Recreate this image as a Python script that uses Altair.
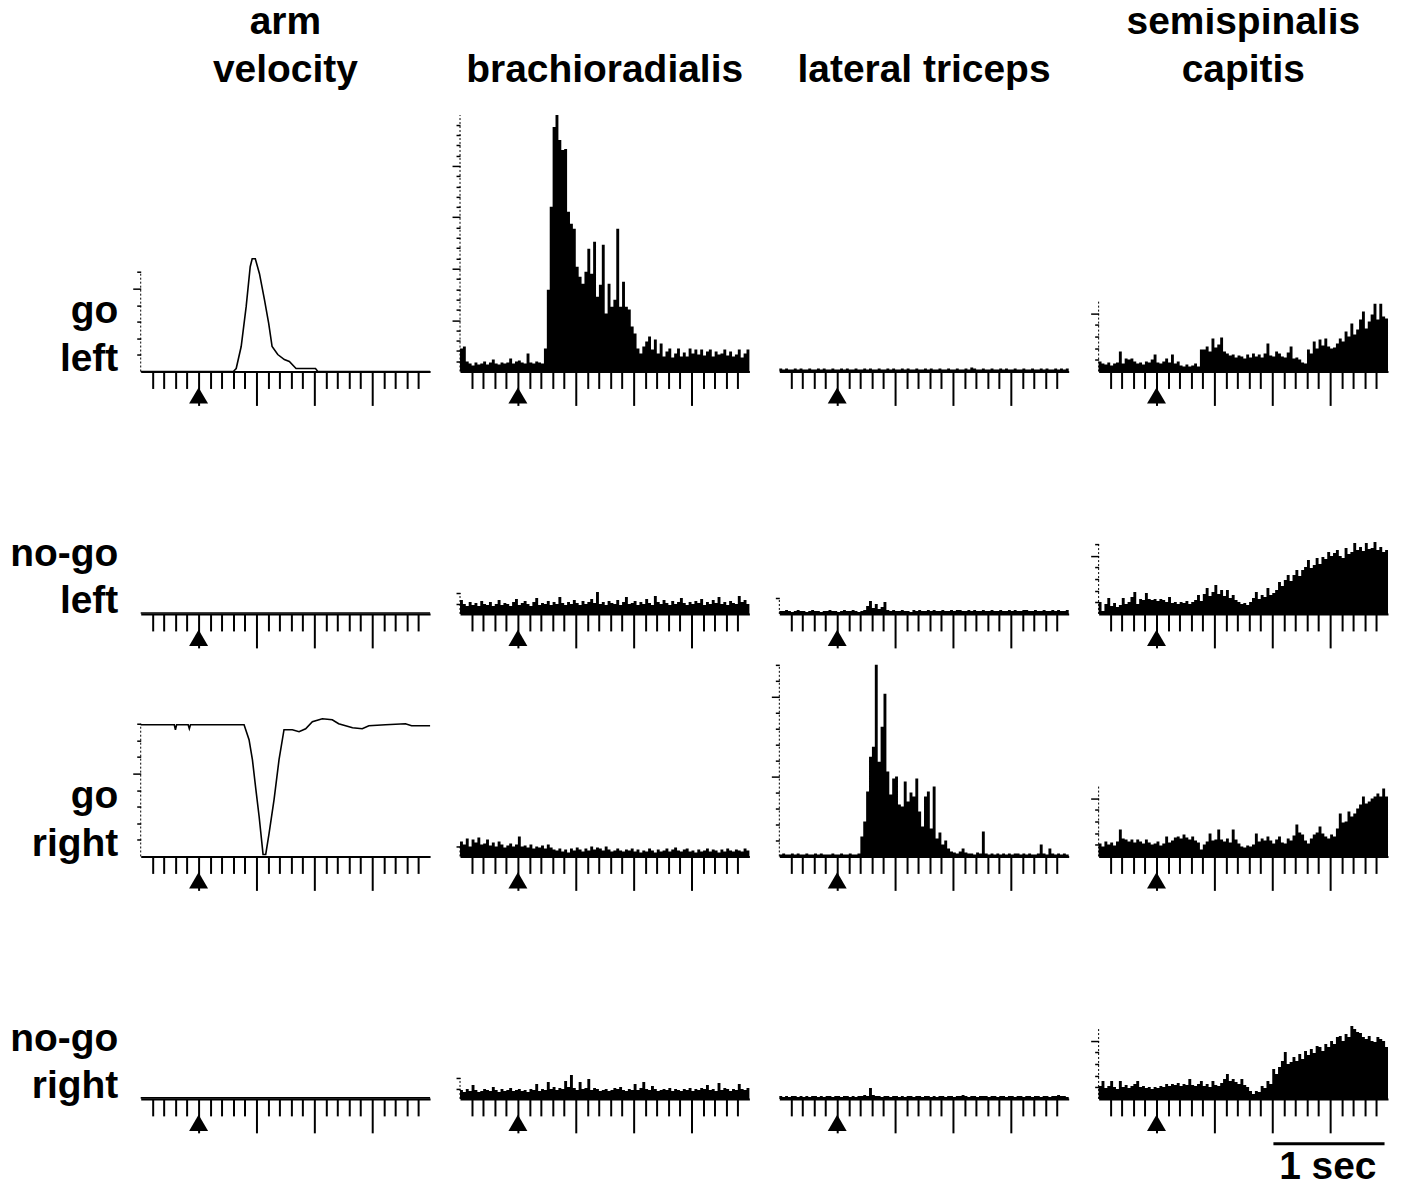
import altair as alt
import pandas as pd

FONT = "Liberation Sans"
PANEL_W = 290
ROW_H = [271, 243, 243, 243]
COL_TITLES = [["arm", "velocity"], "brachioradialis", "lateral triceps", ["semispinalis", "capitis"]]
ROW_LABELS = [["go", "left"], ["no-go", "left"], ["go", "right"], ["no-go", "right"]]

# ---------------- arm velocity traces (time s, value) ----------------
vel_goL_t = [-0.5, 0.3, 0.325, 0.368, 0.411, 0.446, 0.463, 0.49, 0.526, 0.569, 0.606, 0.635, 0.684, 0.741, 0.784, 0.842, 1.01, 1.03, 2.0]
vel_goL_v = [0, 0, 3, 25, 65, 105, 113, 113, 98, 72, 48, 25, 17, 12, 10, 3, 3, 0, 0]
vel_nogoL_t = [-0.5, 2.0]
vel_nogoL_v = [1, 1]
vel_goR_t = [-0.5, -0.21, -0.2, -0.19, -0.09, -0.08, -0.07, 0.393, 0.436, 0.465, 0.494, 0.523, 0.557, 0.58, 0.609, 0.652, 0.695, 0.738, 0.81, 0.868, 0.925, 0.983, 1.069, 1.155, 1.21, 1.33, 1.414, 1.471, 1.615, 1.787, 1.84, 2.0]
vel_goR_v = [132, 132, 127, 132, 132, 128, 132, 132, 117, 97, 68, 40, 2, 2, 23, 57, 97, 127, 127, 125, 128, 135, 138, 137, 133, 129, 128, 131, 132, 133, 131, 131]
vel_nogoR_t = [-0.5, 2.0]
vel_nogoR_v = [1, 1]

# ---------------- EMG histograms, 25 ms bins from -0.5 s ----------------
brach_goL = [23, 25, 10, 8, 6, 9, 7, 8, 10, 7, 9, 12, 8, 7, 9, 8, 9, 13, 8, 10,
             11, 9, 8, 18, 9, 8, 10, 9, 8, 23, 82, 165, 245, 257, 232, 222, 223, 160, 148, 143,
             105, 95, 88, 100, 123, 98, 130, 75, 87, 127, 58, 88, 65, 72, 143, 65, 90, 65, 62, 45,
             38, 23, 18, 25, 30, 35, 22, 32, 18, 28, 15, 20, 23, 14, 18, 23, 15, 19, 15, 23,
             18, 22, 17, 22, 16, 20, 22, 15, 20, 17, 18, 22, 16, 20, 15, 17, 22, 14, 18, 22]
brach_nogoL = [14, 10, 8, 12, 9, 11, 8, 13, 10, 9, 12, 8, 10, 14, 9, 11, 10, 8, 12, 15,
               9, 11, 13, 10, 8, 12, 16, 9, 11, 10, 13, 9, 12, 10, 17, 11, 9, 12, 10, 14,
               11, 9, 13, 10, 12, 15, 11, 22, 10, 12, 9, 13, 11, 10, 14, 9, 12, 17, 10, 11,
               13, 9, 12, 10, 15, 11, 9, 18, 12, 10, 14, 11, 9, 13, 10, 12, 16, 11, 9, 12,
               10, 13, 11, 15, 9, 12, 10, 14, 11, 17, 10, 12, 9, 13, 11, 10, 18, 12, 14, 10]
brach_goR = [15, 12, 18, 10, 17, 14, 19, 12, 13, 17, 11, 14, 10, 15, 12, 9, 11, 13, 10, 12,
             20, 10, 11, 9, 12, 8, 10, 9, 11, 8, 12, 9, 7, 6, 8, 5, 7, 4, 8, 6,
             9, 7, 5, 8, 6, 10, 7, 9, 8, 6, 10, 7, 5, 6, 8, 6, 5, 7, 6, 8,
             5, 7, 4, 6, 5, 8, 6, 4, 7, 5, 6, 8, 5, 7, 9, 6, 5, 7, 8, 5,
             6, 4, 7, 5, 6, 8, 5, 7, 6, 4, 7, 5, 8, 6, 5, 7, 6, 5, 8, 6]
brach_nogoR = [9, 7, 10, 8, 14, 9, 7, 8, 10, 9, 8, 12, 9, 7, 10, 8, 9, 11, 8, 9,
               10, 8, 9, 7, 10, 9, 15, 8, 10, 9, 17, 10, 12, 9, 11, 10, 18, 12, 24, 11,
               9, 17, 10, 11, 20, 9, 11, 10, 8, 9, 10, 8, 9, 11, 10, 12, 9, 8, 10, 9,
               15, 9, 11, 17, 10, 9, 13, 10, 8, 9, 10, 9, 11, 8, 10, 9, 8, 10, 9, 11,
               8, 10, 9, 11, 10, 14, 9, 10, 8, 16, 9, 11, 10, 8, 10, 9, 15, 10, 9, 11]
tri_goL = [3, 2, 3, 2, 2, 3, 2, 3, 2, 2, 3, 2, 2, 3, 2, 3, 2, 2, 3, 2,
           2, 3, 2, 3, 2, 2, 3, 2, 2, 3, 2, 3, 2, 2, 3, 2, 2, 3, 2, 3,
           2, 2, 3, 2, 3, 2, 2, 3, 2, 2, 3, 2, 3, 2, 2, 3, 2, 2, 3, 2,
           2, 3, 2, 2, 3, 2, 4, 3, 2, 2, 3, 2, 2, 3, 2, 2, 3, 2, 3, 2,
           2, 3, 2, 2, 3, 2, 2, 3, 2, 2, 3, 2, 3, 2, 2, 3, 2, 3, 2, 3]
tri_nogoL = [3, 3, 4, 3, 2, 3, 4, 3, 3, 2, 3, 4, 3, 3, 2, 3, 3, 4, 3, 3,
             2, 3, 4, 3, 3, 4, 3, 2, 3, 4, 8, 13, 6, 10, 5, 7, 12, 4, 3, 4,
             3, 3, 4, 3, 3, 2, 4, 3, 4, 3, 3, 4, 3, 4, 3, 3, 4, 3, 3, 4,
             3, 4, 4, 3, 3, 4, 3, 4, 3, 3, 4, 3, 3, 4, 3, 3, 4, 3, 3, 4,
             3, 4, 3, 3, 4, 4, 3, 3, 4, 3, 3, 4, 3, 3, 4, 3, 4, 3, 3, 4]
tri_goR = [2, 3, 2, 2, 3, 2, 3, 2, 2, 3, 2, 2, 3, 2, 3, 2, 2, 2, 3, 2,
           2, 3, 2, 2, 3, 2, 2, 3, 20, 35, 65, 100, 110, 192, 95, 130, 163, 85, 62, 78,
           80, 52, 50, 75, 55, 64, 60, 78, 45, 30, 60, 65, 28, 70, 18, 24, 12, 16, 8, 5,
           4, 3, 5, 8, 4, 3, 3, 2, 4, 3, 25, 3, 2, 3, 2, 3, 2, 3, 2, 3,
           2, 3, 3, 2, 3, 2, 3, 2, 2, 3, 12, 3, 2, 8, 3, 2, 3, 2, 3, 2]
tri_nogoR = [3, 2, 3, 2, 3, 3, 2, 3, 2, 3, 2, 3, 3, 2, 3, 2, 3, 3, 2, 3,
             3, 2, 3, 3, 2, 3, 2, 3, 3, 4, 3, 11, 4, 3, 3, 2, 3, 3, 2, 3,
             3, 2, 3, 2, 3, 3, 2, 3, 3, 2, 3, 3, 2, 3, 2, 3, 3, 2, 3, 3,
             2, 3, 3, 4, 3, 2, 3, 3, 2, 3, 3, 3, 2, 3, 3, 2, 3, 3, 2, 3,
             3, 2, 3, 3, 2, 3, 3, 2, 3, 3, 2, 3, 3, 2, 3, 3, 4, 3, 3, 2]
semi_goL = [10, 8, 7, 9, 6, 8, 9, 20, 8, 13, 12, 13, 10, 8, 9, 7, 10, 9, 12, 17,
            9, 8, 10, 13, 9, 17, 8, 10, 6, 5, 7, 5, 6, 8, 5, 22, 22, 25, 20, 33,
            24, 27, 34, 20, 18, 16, 17, 14, 16, 15, 13, 17, 14, 18, 15, 17, 14, 18, 28, 16,
            15, 20, 18, 15, 14, 19, 25, 13, 14, 12, 9, 8, 22, 18, 30, 23, 32, 26, 33, 25,
            23, 24, 28, 33, 30, 40, 35, 48, 37, 42, 52, 60, 43, 50, 57, 68, 52, 68, 55, 53]
semi_nogoL = [12, 3, 10, 16, 8, 11, 7, 9, 16, 10, 12, 17, 22, 10, 15, 14, 21, 15, 14, 15,
              13, 15, 14, 12, 17, 11, 12, 10, 12, 11, 13, 10, 12, 14, 19, 13, 20, 26, 18, 22,
              29, 20, 24, 18, 24, 16, 19, 14, 12, 10, 11, 9, 12, 16, 22, 15, 19, 17, 26, 19,
              21, 24, 32, 28, 34, 39, 33, 39, 44, 38, 44, 47, 54, 46, 49, 56, 50, 57, 55, 62,
              58, 61, 64, 58, 56, 66, 60, 62, 71, 64, 67, 63, 71, 65, 66, 72, 64, 67, 62, 64]
semi_goR = [13, 10, 15, 12, 14, 11, 15, 27, 18, 17, 15, 17, 14, 17, 15, 13, 17, 14, 12, 13,
            15, 11, 13, 20, 14, 16, 19, 20, 18, 22, 19, 17, 20, 16, 14, 7, 12, 15, 23, 16,
            17, 27, 17, 15, 18, 14, 27, 17, 13, 10, 9, 11, 10, 12, 23, 15, 18, 16, 20, 16,
            13, 17, 20, 14, 13, 18, 16, 21, 32, 24, 22, 16, 13, 18, 22, 24, 30, 23, 20, 18,
            22, 20, 28, 43, 34, 35, 45, 40, 43, 48, 52, 60, 53, 55, 58, 60, 63, 60, 68, 60]
semi_nogoR = [13, 18, 11, 13, 18, 12, 10, 18, 12, 14, 11, 13, 15, 18, 12, 13, 11, 12, 10, 12,
              11, 13, 12, 15, 13, 15, 14, 16, 13, 15, 14, 20, 14, 13, 15, 18, 13, 15, 12, 18,
              14, 13, 16, 20, 25, 18, 20, 17, 15, 20, 14, 12, 8, 5, 8, 7, 13, 11, 18, 15,
              30, 25, 32, 38, 47, 35, 37, 42, 38, 45, 40, 48, 44, 50, 46, 53, 52, 48, 55, 52,
              58, 55, 62, 63, 58, 65, 62, 73, 70, 67, 66, 62, 60, 63, 58, 57, 62, 60, 58, 52]

# y tick spacing per column and tick-range top per panel
Y_STEP = [16.6, 10.3, 16.0, 11.7]
Y_MAX = [[100, 257, 0, 70],
         [0, 21, 16, 72],
         [133, 11, 192, 70],
         [0, 21, 0, 70]]

PANELS = [
    [("line", vel_goL_t, vel_goL_v), ("emg", brach_goL), ("emg", tri_goL), ("emg", semi_goL)],
    [("line", vel_nogoL_t, vel_nogoL_v), ("emg", brach_nogoL), ("emg", tri_nogoL), ("emg", semi_nogoL)],
    [("line", vel_goR_t, vel_goR_v), ("emg", brach_goR), ("emg", tri_goR), ("emg", semi_goR)],
    [("line", vel_nogoR_t, vel_nogoR_v), ("emg", brach_nogoR), ("emg", tri_nogoR), ("emg", semi_nogoR)],
]

BIN = 0.025
T0, T1 = -0.5, 2.0
X_TICKS = [round(-0.4 + 0.1 * k, 2) for k in range(24)]
STIM_T = 0.0
SCALEBAR = (1.01, 1.97)

dummy = pd.DataFrame({"a": [0]})


def emg_df(vals):
    t = [round(T0 + i * BIN, 4) for i in range(len(vals) + 1)]
    return pd.DataFrame({"t": t, "v": list(vals) + [vals[-1]]})


def make_panel(r, c):
    spec = PANELS[r][c]
    H = ROW_H[r]
    step = Y_STEP[c]
    ymax = Y_MAX[r][c]
    xscale = alt.Scale(domain=[T0, T1], nice=False, zero=False)
    yscale = alt.Scale(domain=[0, H], nice=False, zero=False)
    yvals = [round(k * step, 2) for k in range(1, int(ymax / step + 1e-6) + 1)]
    ytest = f"abs(datum.value/{step * 5} - round(datum.value/{step * 5})) < 0.02"
    yaxis = alt.Axis(values=yvals, tickCount=1000, labels=False, domain=False, grid=False,
                     tickColor="black", tickWidth=1.5,
                     tickSize={"condition": {"test": ytest, "value": 8}, "value": 4},
                     titleAngle=0, titleAlign="right", titleBaseline="alphabetic",
                     titleX=-23, titleY=H - 49, titleFont=FONT, titleFontSize=39,
                     titleFontWeight="bold", titleLineHeight=48, titleColor="black")
    xtest = "abs(datum.value*2 - round(datum.value*2)) < 0.01"
    xaxis = alt.Axis(values=X_TICKS, tickCount=1000, labels=False, title=None, grid=False,
                     domainColor="black", domainWidth=2, tickColor="black", tickWidth=2,
                     tickSize={"condition": {"test": xtest, "value": 34}, "value": 17})
    ytitle = ROW_LABELS[r] if c == 0 else None
    if spec[0] == "emg":
        df = emg_df(spec[1])
        main = alt.Chart(df).mark_area(interpolate="step-after", color="black", opacity=1)
    else:
        df = pd.DataFrame({"t": spec[1], "v": spec[2]})
        main = alt.Chart(df).mark_line(color="black", strokeWidth=1.6)
    main = main.encode(x=alt.X("t:Q", scale=xscale, axis=xaxis),
                       y=alt.Y("v:Q", scale=yscale, axis=yaxis, title=ytitle))
    layers = [main]
    if ymax > 0:
        layers.append(alt.Chart(dummy).mark_rule(color="black", strokeWidth=1, strokeDash=[2, 2])
                      .encode(x=alt.datum(T0), y=alt.datum(0), y2=alt.datum(ymax)))
    layers.append(alt.Chart(dummy).mark_point(shape="M-1,0.85L0,-0.85L1,0.85Z", filled=True,
                                              color="black", opacity=1, size=361, yOffset=24)
                  .encode(x=alt.datum(STIM_T), y=alt.datum(0)))
    if r == 3 and c == 3:
        layers.append(alt.Chart(dummy).mark_rule(color="black", strokeWidth=3, yOffset=45)
                      .encode(x=alt.datum(SCALEBAR[0]), x2=alt.datum(SCALEBAR[1]), y=alt.datum(0)))
        layers.append(alt.Chart(dummy).mark_text(text="1 sec", font=FONT, fontSize=39,
                                                 fontWeight="bold", baseline="alphabetic",
                                                 align="center", dy=80, color="black")
                      .encode(x=alt.datum(1.48), y=alt.datum(0)))
    props = dict(width=PANEL_W, height=H)
    if r == 0:
        props["title"] = alt.TitleParams(text=COL_TITLES[c], font=FONT, fontSize=39,
                                         fontWeight="bold", anchor="middle", baseline="bottom",
                                         offset=-28, lineHeight=48, color="black")
    return alt.layer(*layers).properties(**props)


panels = [make_panel(r, c) for r in range(4) for c in range(4)]

chart = alt.concat(*panels, columns=4, spacing={"row": 0, "column": 30}, bounds="flush").properties(
    padding={"left": 1, "top": -6, "right": 5, "bottom": 0}
).configure_view(stroke=None)

chart.save("out.html", embed_options={"renderer": "svg", "actions": False})
